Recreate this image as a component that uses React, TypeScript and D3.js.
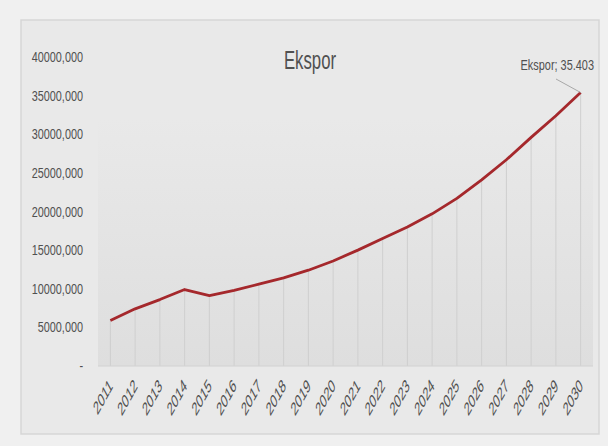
import React from "react";
import * as d3 from "d3";

const years = [
  "2011", "2012", "2013", "2014", "2015", "2016", "2017", "2018", "2019", "2020",
  "2021", "2022", "2023", "2024", "2025", "2026", "2027", "2028", "2029", "2030",
];
const ekspor = [
  5900, 7400, 8600, 9900, 9100, 9800, 10600, 11400, 12400, 13600,
  15000, 16500, 18000, 19700, 21700, 24100, 26700, 29600, 32400, 35403,
];
const yTicks = [0, 5000, 10000, 15000, 20000, 25000, 30000, 35000, 40000];
const yTickLabels = ["-", "5000,000", "10000,000", "15000,000", "20000,000", "25000,000", "30000,000", "35000,000", "40000,000"];
const title = "Ekspor";
const seriesName = "Ekspor";
const lastLabel = "35.403";

const W = 608, H = 446;
const plot = { left: 98, right: 593, top: 57, bottom: 366 };

export default function App() {
  const x = d3.scalePoint<string>().domain(years).range([plot.left, plot.right]).padding(0.5);
  const y = d3.scaleLinear().domain([0, 40000]).range([plot.bottom, plot.top]);
  const line = d3.line<number>().x((_, i) => x(years[i])!).y((d) => y(d));
  const lastX = x(years[years.length - 1])!;
  const lastY = y(ekspor[ekspor.length - 1]);
  const textColor = "#505050";
  const font = "'Liberation Sans', Arial, sans-serif";
  return (
    <svg width={W} height={H} style={{ position: "absolute", left: 0, top: 0 }} fontFamily={font}>
      <defs>
        <linearGradient id="pg" x1="0" y1="0" x2="0" y2="1">
          <stop offset="0" stopColor="#e9e9e9" />
          <stop offset="1" stopColor="#dedede" />
        </linearGradient>
      </defs>
      <rect x={0} y={0} width={W} height={H} fill="#f0f0f0" />
      <rect x={21} y={20} width={578} height={414} fill="#e9e9e9" stroke="#d6d6d6" strokeWidth={1.5} />
      <rect x={plot.left} y={plot.top + 60} width={plot.right - plot.left} height={plot.bottom - plot.top - 60} fill="url(#pg)" />
      {/* drop lines */}
      {ekspor.map((v, i) => (
        <line key={"d" + i} x1={x(years[i])} x2={x(years[i])} y1={y(v)} y2={plot.bottom} stroke="#cfcfcf" strokeWidth={1} />
      ))}
      <line x1={plot.left} x2={plot.right} y1={plot.bottom} y2={plot.bottom} stroke="#d2d2d2" strokeWidth={1} />
      {/* y tick labels */}
      {yTicks.map((t, i) => (
        <g key={"y" + i} transform={`translate(83,${y(t) + 5}) scale(0.75,1)`}>
          <text x={0} y={0} textAnchor="end" fontSize={14.5} fill={textColor}>{yTickLabels[i]}</text>
        </g>
      ))}
      {/* x tick labels */}
      {years.map((yr) => (
        <g key={"x" + yr} transform={`translate(${x(yr)! + 3},387) scale(0.8,1.45) rotate(-45)`}>
          <text x={0} y={0} textAnchor="end" fontSize={13} fill={textColor}>{yr}</text>
        </g>
      ))}
      {/* title */}
      <g transform="translate(310,69) scale(0.67,1)">
        <text x={0} y={0} textAnchor="middle" fontSize={25} fill={textColor}>{title}</text>
      </g>
      {/* series line */}
      <path d={line(ekspor) ?? ""} fill="none" stroke="#a5282c" strokeWidth={2.8} strokeLinejoin="round" />
      {/* data label */}
      <line x1={556} y1={79} x2={lastX} y2={lastY} stroke="#a8a8a8" strokeWidth={1} />
      <g transform="translate(594,70) scale(0.78,1)">
        <text x={0} y={0} textAnchor="end" fontSize={14} fill={textColor}>{`${seriesName}; ${lastLabel}`}</text>
      </g>
    </svg>
  );
}
